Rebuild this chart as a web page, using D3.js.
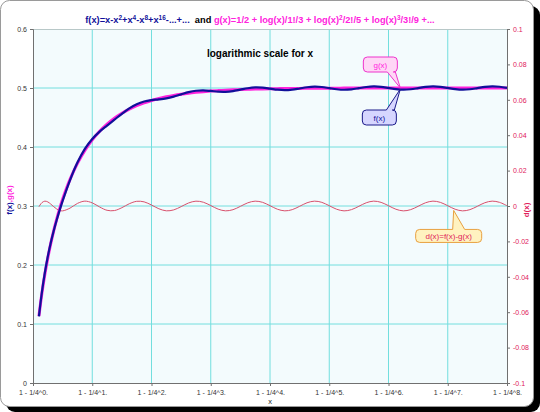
<!DOCTYPE html>
<html><head><meta charset="utf-8">
<script src="https://cdn.jsdelivr.net/npm/d3@7"></script>
<style>
html,body{margin:0;padding:0;background:#fff;}
svg{display:block;font-family:"Liberation Sans",Arial,sans-serif;}
</style></head>
<body>
<svg id="c" width="540" height="412"></svg>
<script>
// x positions expressed as n, where x = 1 - 1/4^n
const nVals = [0.1,0.15,0.2,0.25,0.3,0.35,0.4,0.45,0.5,
  0.625,0.75,0.875,1,1.125,1.25,1.375,1.5,1.625,1.75,1.875,2,
  2.125,2.25,2.375,2.5,2.625,2.75,2.875,3,3.125,3.25,3.375,3.5,3.625,3.75,3.875,4,
  4.125,4.25,4.375,4.5,4.625,4.75,4.875,5,5.125,5.25,5.375,5.5,5.625,5.75,5.875,6,
  6.125,6.25,6.375,6.5,6.625,6.75,6.875,7,7.125,7.25,7.375,7.5,7.625,7.75,7.875,8];
const fVals = [0.1130,0.1537,0.1869,0.2144,0.2377,0.2580,0.2762,0.2930,0.3086,
  0.3439,0.3736,0.3968,0.4137,0.4261,0.4364,0.4464,0.4563,0.4655,0.4726,0.4772,0.4795,
  0.4807,0.4824,0.4853,0.4892,0.4929,0.4953,0.4959,0.4950,0.4938,0.4936,0.4948,0.4972,0.4996,0.5009,0.5005,0.4989,
  0.4971,0.4963,0.4972,0.4992,0.5013,0.5023,0.5017,0.4998,0.4979,0.4970,0.4978,0.4997,0.5017,0.5026,0.5020,0.5001,
  0.4981,0.4972,0.4979,0.4998,0.5018,0.5027,0.5020,0.5001,0.4982,0.4972,0.4979,0.4998,0.5018,0.5027,0.5021,0.5002];
const gVals = [0.1134,0.1519,0.1842,0.2121,0.2366,0.2584,0.2779,0.2955,0.3114,
  0.3451,0.3722,0.3941,0.4120,0.4266,0.4388,0.4489,0.4572,0.4642,0.4700,0.4748,0.4789,
  0.4823,0.4851,0.4875,0.4895,0.4912,0.4926,0.4938,0.4948,0.4956,0.4963,0.4969,0.4974,0.4978,0.4982,0.4985,0.4987,
  0.4989,0.4991,0.4992,0.4993,0.4995,0.4995,0.4996,0.4997,0.4997,0.4998,0.4998,0.4998,0.4999,0.4999,0.4999,0.4999,
  0.4999,0.4999,0.5,0.5,0.5,0.5,0.5,0.5,0.5,0.5,0.5,0.5,0.5,0.5,0.5,0.5];
const dVals = [-0.00043,0.00188,0.00274,0.00230,0.00107,-0.00040,-0.00168,-0.00250,-0.00275,
  -0.00120,0.00146,0.00275,0.00176,-0.00056,-0.00243,-0.00257,-0.00096,0.00127,0.00265,0.00234,0.00055,
  -0.00157,-0.00272,-0.00220,-0.00035,0.00170,0.00273,0.00213,0.00025,-0.00177,-0.00274,-0.00209,-0.00021,0.00180,0.00274,0.00207,0.00018,
  -0.00182,-0.00274,-0.00206,-0.00017,0.00182,0.00274,0.00206,0.00016,-0.00183,-0.00275,-0.00205,-0.00016,0.00183,0.00275,0.00205,0.00016,
  -0.00183,-0.00275,-0.00205,-0.00016,0.00183,0.00275,0.00205,0.00016,-0.00183,-0.00275,-0.00205,-0.00016,0.00183,0.00275,0.00205,0.00016];

const xTicks = [0,1,2,3,4,5,6,7,8];
const xTickLabels = ["1 - 1/4^0.","1 - 1/4^1.","1 - 1/4^2.","1 - 1/4^3.","1 - 1/4^4.","1 - 1/4^5.","1 - 1/4^6.","1 - 1/4^7.","1 - 1/4^8."];
const yLeftTicks = [0,0.1,0.2,0.3,0.4,0.5,0.6];
const yLeftLabels = ["0","0.1","0.2","0.3","0.4","0.5","0.6"];
const yRightTicks = [-0.1,-0.08,-0.06,-0.04,-0.02,0,0.02,0.04,0.06,0.08,0.1];
const yRightLabels = ["-0.1","-0.08","-0.06","-0.04","-0.02","0","0.02","0.04","0.06","0.08","0.1"];
const calloutNs = {g:6.2, f:6.2, d:7.1};

const svg = d3.select("#c");
const L=33,R=507,T=29,B=383;
const x = d3.scaleLinear().domain([0,8]).range([L,R]);
const yL = d3.scaleLinear().domain([0,0.6]).range([B,T]);
const yR = d3.scaleLinear().domain([-0.1,0.1]).range([B,T]);

const cF="#10109a", cG="#ff22dd", cD="#d8506c", cGrid="#72dede", cRed="#e0205a";

// frame
svg.append("rect").attr("x",6).attr("y",6).attr("width",534).attr("height",406).attr("rx",9).attr("fill","#000");
svg.append("rect").attr("x",0.5).attr("y",0.5).attr("width",533).attr("height",406).attr("rx",9)
  .attr("fill","#fff").attr("stroke","#9a9a9a");

// plot area
svg.append("rect").attr("x",L).attr("y",T).attr("width",R-L).attr("height",B-T).attr("fill","#f3fbfd");

const grid = svg.append("g");
grid.selectAll("line.h").data(yLeftTicks.filter(v=>v>0&&v<0.6)).join("line")
  .attr("x1",L).attr("x2",R).attr("y1",d=>yL(d)).attr("y2",d=>yL(d))
  .attr("stroke",cGrid).attr("stroke-width",1);
grid.selectAll("line.v").data(xTicks.filter(v=>v>0&&v<8)).join("line")
  .attr("y1",T).attr("y2",B).attr("x1",d=>x(d)).attr("x2",d=>x(d))
  .attr("stroke",cGrid).attr("stroke-width",1);
svg.append("line").attr("x1",L).attr("x2",R).attr("y1",T+0.5).attr("y2",T+0.5).attr("stroke","#b8c8c8");

// axes
const axL = d3.axisLeft(yL).tickValues(yLeftTicks).tickFormat((d,i)=>yLeftLabels[i]).tickSize(3).tickPadding(3);
const axR = d3.axisRight(yR).tickValues(yRightTicks).tickFormat((d,i)=>yRightLabels[i]).tickSize(3).tickPadding(3);
const axB = d3.axisBottom(x).tickValues(xTicks).tickFormat((d,i)=>xTickLabels[i]).tickSize(3).tickPadding(4);
const gL = svg.append("g").attr("transform",`translate(${L},0)`).call(axL);
const gR = svg.append("g").attr("transform",`translate(${R},0)`).call(axR);
const gB = svg.append("g").attr("transform",`translate(0,${B})`).call(axB);
[gL,gR,gB].forEach(g=>{
  g.selectAll(".domain").attr("stroke","#707070");
  g.selectAll(".tick line").attr("stroke","#707070");
  g.selectAll("text").attr("font-size",7).attr("font-family","Liberation Sans, Arial, sans-serif");
});
gL.selectAll("text").attr("fill","#333");
gB.selectAll("text").attr("fill","#333");
gR.selectAll("text").attr("fill",cRed);

// series
const pts = nVals.map((n,i)=>({n,f:fVals[i],g:gVals[i],d:dVals[i]}));
const lineG = d3.line().x(p=>x(p.n)).y(p=>yL(p.g)).curve(d3.curveCatmullRom);
const lineF = d3.line().x(p=>x(p.n)).y(p=>yL(p.f)).curve(d3.curveCatmullRom);
const lineD = d3.line().x(p=>x(p.n)).y(p=>yR(p.d)).curve(d3.curveCatmullRom);
svg.append("path").attr("d",lineD(pts)).attr("fill","none").attr("stroke",cD).attr("stroke-width",1);
svg.append("path").attr("d",lineG(pts)).attr("fill","none").attr("stroke",cG).attr("stroke-width",3);
svg.append("path").attr("d",lineF(pts)).attr("fill","none").attr("stroke",cF).attr("stroke-width",2.2);

// titles
const title = svg.append("text").attr("x",260).attr("y",23).attr("text-anchor","middle")
  .attr("font-weight","bold").attr("font-size",9).style("white-space","pre");
let pendingDown = false;
function part(txt,color,sup){
  const t = title.append("tspan").attr("fill",color).text(txt);
  if(sup){ t.attr("font-size","0.7em").attr("dy",-3.5); pendingDown = true; }
  else if(pendingDown){ t.attr("dy",3.5); pendingDown = false; }
  return t;
}
part("f(x)=x-x",cF); part("2",cF,1); part("+x",cF); part("4",cF,1); part("-x",cF); part("8",cF,1);
part("+x",cF); part("16",cF,1); part("-...+...  ",cF);
part("and ","#000");
part("g(x)=1/2 + log(x)/1!/3 + log(x)",cG); part("2",cG,1); part("/2!/5 + log(x)",cG); part("3",cG,1); part("/3!/9 +...",cG);
const tw = title.node().getComputedTextLength();
if(tw>0) title.attr("font-size", 9*350/tw);

svg.append("text").attr("x",260).attr("y",57).attr("text-anchor","middle").attr("font-weight","bold")
  .attr("font-size",10).attr("fill","#000").text("logarithmic scale for x");

svg.append("text").attr("x",270).attr("y",404).attr("text-anchor","middle").attr("font-size",7.5).attr("fill","#222").text("x");

const ylt = svg.append("text").attr("transform","translate(12,200) rotate(-90)").attr("text-anchor","middle")
  .attr("font-size",8).attr("font-weight","bold");
ylt.append("tspan").attr("fill",cF).text("f(x)");
ylt.append("tspan").attr("fill",cG).text(",g(x)");
svg.append("text").attr("transform","translate(529,210) rotate(-90)").attr("text-anchor","middle")
  .attr("font-size",8).attr("font-weight","bold").attr("fill",cRed).text("d(x)");

// callouts
function callout(bx,by,bw,bh,wx1,wx2,tx,ty,top,stroke,fill,label,tcolor){
  const r=4;
  let p;
  if(!top){
    p=`M${bx+r},${by}H${bx+bw-r}Q${bx+bw},${by} ${bx+bw},${by+r}V${by+bh-r}Q${bx+bw},${by+bh} ${bx+bw-r},${by+bh}H${wx2}L${tx},${ty}L${wx1},${by+bh}H${bx+r}Q${bx},${by+bh} ${bx},${by+bh-r}V${by+r}Q${bx},${by} ${bx+r},${by}Z`;
  } else {
    p=`M${bx+r},${by}H${wx1}L${tx},${ty}L${wx2},${by}H${bx+bw-r}Q${bx+bw},${by} ${bx+bw},${by+r}V${by+bh-r}Q${bx+bw},${by+bh} ${bx+bw-r},${by+bh}H${bx+r}Q${bx},${by+bh} ${bx},${by+bh-r}V${by+r}Q${bx},${by} ${bx+r},${by}Z`;
  }
  svg.append("path").attr("d",p).attr("fill",fill).attr("stroke",stroke).attr("stroke-width",1);
  svg.append("text").attr("x",bx+bw/2).attr("y",by+bh/2+3).attr("text-anchor","middle")
    .attr("font-size",8).attr("fill",tcolor).text(label);
}
const gtx = x(calloutNs.g), gty = yL(0.5);
callout(gtx-37,gty-31,34,15,gtx-13,gtx-5,gtx,gty,false,"#ee33cc","#ffd6f6","g(x)",cG);
const ftx = x(calloutNs.f), fty = yL(0.5)+1;
callout(ftx-38,fty+21,34,15,ftx-14,ftx-6,ftx,fty,true,"#1a1a8a","#d6d6ff","f(x)",cF);
const dtx = x(calloutNs.d), dty = yR(-0.0025);
callout(dtx-38,dty+19,66,13,dtx-1,dtx+11,dtx,dty,true,"#e8a040","#fff2c0","d(x)=f(x)-g(x)",cRed);
</script>
</body></html>
